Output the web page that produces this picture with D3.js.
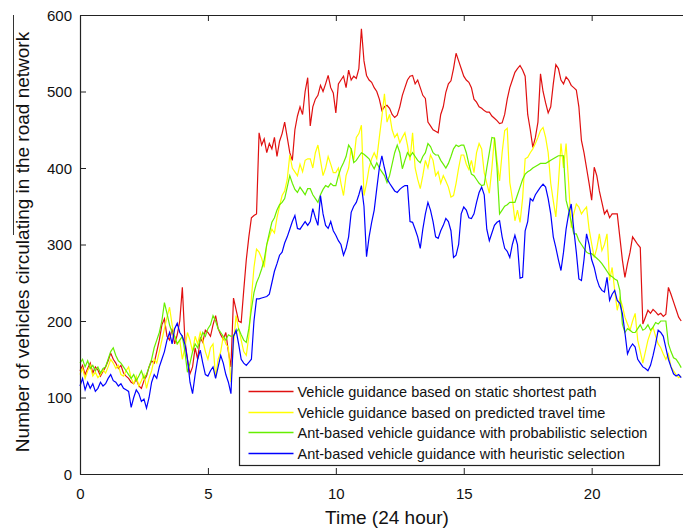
<!DOCTYPE html>
<html>
<head>
<meta charset="utf-8">
<script src="https://cdn.jsdelivr.net/npm/d3@7"></script>
<style>
  body { margin: 0; background: #fff; }
  svg text { font-family: "Liberation Sans", Arial, sans-serif; fill: #111; }
</style>
</head>
<body>
<div id="chart"></div>
<script>
// sampled every 0.1 hour, from 0 to 23.5
var step = 0.1;

var staticShortest = [
  135,142,130,138,145,132,140,136,128,134,
  140,148,158,150,145,138,142,132,128,125,
  120,118,124,115,112,122,128,140,148,145,
  160,175,195,203,180,175,190,170,182,200,
  244,175,150,131,140,165,150,178,172,188,
  185,180,195,207,190,182,176,185,160,140,
  230,215,200,198,240,280,310,335,338,340,
  446,430,438,420,432,425,440,415,435,445,
  460,440,420,410,450,468,480,470,500,518,
  455,480,490,495,508,500,510,521,505,498,
  472,510,515,520,505,528,515,520,517,530,
  582,540,521,515,512,505,500,490,475,480,
  482,478,470,466,469,480,495,505,515,520,
  521,510,515,505,495,491,460,455,450,448,
  446,470,480,499,510,514,530,550,540,530,
  520,515,512,505,490,486,480,478,475,473,
  473,468,465,462,458,459,470,490,505,515,
  525,530,534,528,520,470,450,427,440,460,
  523,500,485,472,480,510,535,530,515,510,
  519,515,508,505,502,480,436,420,400,380,
  358,401,390,370,355,340,345,335,340,340,
  340,310,280,257,275,290,310,305,300,296,
  196,205,214,210,215,212,208,210,206,209,
  244,235,225,215,205,200
];

var predictedTravel = [
  130,138,125,135,142,128,133,126,130,136,
  132,140,150,145,138,142,130,128,135,140,
  125,118,128,115,122,130,112,125,135,150,
  145,160,175,190,205,218,195,180,170,175,
  150,165,185,175,160,180,170,185,175,160,
  150,165,170,126,150,160,180,170,165,120,
  170,207,190,175,160,155,180,230,270,294,
  290,282,270,300,310,320,315,335,350,364,
  370,385,417,400,395,390,405,395,410,412,
  412,400,420,430,410,390,400,415,405,394,
  394,400,380,364,390,400,426,410,440,445,
  456,364,380,400,412,420,412,440,467,497,
  460,470,450,440,445,433,440,446,430,410,
  446,400,385,373,390,410,400,417,410,390,
  395,380,390,383,375,362,364,380,400,417,
  417,405,398,410,394,420,432,425,394,380,
  367,400,440,410,383,420,449,452,381,360,
  331,345,329,360,412,414,420,425,432,440,
  449,453,440,420,380,357,336,380,432,400,
  432,380,322,340,353,349,340,345,349,320,
  301,283,295,314,292,300,314,253,270,240,
  214,230,220,205,196,188,200,210,175,160,
  145,160,175,185,192,180,170,165,157,150,
  157,140,135,130,126,128
];

var antProbabilistic = [
  145,150,140,148,138,142,135,140,132,138,
  140,150,160,165,155,148,145,140,135,130,
  125,130,122,128,135,125,130,140,150,165,
  175,185,200,224,210,195,185,180,170,175,
  180,160,133,145,160,170,165,175,185,180,
  190,195,207,200,190,185,180,175,182,180,
  181,185,190,182,175,172,190,215,237,250,
  258,268,280,300,315,329,335,345,352,355,
  360,375,390,380,372,368,375,370,365,373,
  373,365,360,355,365,372,377,375,380,377,
  377,390,400,407,415,430,425,407,410,415,
  420,418,415,412,405,399,407,400,395,390,
  381,390,405,420,430,420,399,410,420,415,
  420,415,410,407,415,420,432,428,420,417,
  417,410,405,400,406,415,425,430,428,430,
  430,420,405,392,390,385,380,377,378,400,
  420,440,439,400,340,345,350,352,355,355,
  355,365,375,385,392,395,397,400,402,404,
  406,406,406,408,410,412,414,416,416,416,
  358,345,330,314,314,305,300,295,290,288,
  288,285,282,279,275,270,265,260,258,255,
  253,240,196,185,190,188,185,185,190,195,
  188,190,195,188,192,198,196,200,200,200,
  170,160,152,150,145,139
];

var antHeuristic = [
  115,125,110,120,112,118,108,112,120,115,
  118,125,130,122,120,115,118,112,110,108,
  87,100,110,105,95,98,86,100,120,130,
  125,140,150,160,175,185,170,190,197,185,
  180,170,150,120,105,130,150,162,145,130,
  128,135,140,125,140,155,145,130,120,105,
  180,188,170,150,145,142,146,150,200,229,
  229,230,231,232,235,250,265,275,286,290,
  302,310,320,330,338,321,320,325,330,325,
  330,347,335,325,364,340,325,321,330,318,
  312,305,300,286,295,310,342,350,355,365,
  377,350,284,310,329,345,373,400,416,400,
  386,380,375,370,368,372,375,377,377,330,
  329,320,310,295,320,340,355,345,330,310,
  308,318,325,334,330,318,283,286,300,340,
  349,345,335,334,340,355,368,375,365,320,
  305,315,325,329,331,310,295,291,283,300,
  312,300,256,257,318,330,360,357,365,370,
  375,379,375,360,340,310,296,280,266,290,
  320,340,353,320,290,255,253,280,314,300,
  280,270,255,245,240,238,257,227,235,240,
  227,223,210,185,157,165,170,166,150,145,
  140,138,135,142,155,170,188,185,180,165,
  150,140,131,128,130,126
];

var seriesNames = [
  "Vehicle guidance based on static shortest path",
  "Vehicle guidance based on predicted travel time",
  "Ant-based vehicle guidance with probabilistic selection",
  "Ant-based vehicle guidance with heuristic selection"
];
var seriesColors = ["#e01010", "#ffff00", "#66ee00", "#0000ff"];
var xTicks = [0, 5, 10, 15, 20];
var yTicks = [0, 100, 200, 300, 400, 500, 600];

var allSeries = [staticShortest, predictedTravel, antProbabilistic, antHeuristic];

var W = 683, H = 530;
var margin = {top: 15, left: 80, bottom: 56};
var plotH = H - margin.top - margin.bottom;

var svg = d3.select("#chart").append("svg")
  .attr("width", W).attr("height", H);

var x = d3.scaleLinear().domain([0, 24]).range([margin.left, margin.left + 614]);
var y = d3.scaleLinear().domain([0, 600]).range([margin.top + plotH, margin.top]);

// lines
var line = d3.line()
  .x(function(d, i) { return x(i * step); })
  .y(function(d) { return y(d); });

allSeries.forEach(function(s, k) {
  svg.append("path")
    .datum(s)
    .attr("fill", "none")
    .attr("stroke", seriesColors[k])
    .attr("stroke-width", 1.2)
    .attr("d", line);
});

// axes (matlab style, inward ticks)
var xAxis = svg.append("g")
  .attr("transform", "translate(0," + y(0) + ")")
  .call(d3.axisBottom(x).tickValues(xTicks).tickSizeInner(-6).tickSizeOuter(0).tickPadding(14));
var xTop = svg.append("g")
  .attr("transform", "translate(0," + y(600) + ")")
  .call(d3.axisTop(x).tickValues(xTicks).tickSizeInner(-6).tickSizeOuter(0).tickFormat(""));
var yAxis = svg.append("g")
  .attr("transform", "translate(" + x(0) + ",0)")
  .call(d3.axisLeft(y).tickValues(yTicks).tickSizeInner(-6).tickSizeOuter(0).tickPadding(8));

[xAxis, xTop, yAxis].forEach(function(g) {
  g.select(".domain").attr("stroke", "#222").attr("stroke-width", 1.2);
  g.selectAll(".tick line").attr("stroke", "#222");
  g.selectAll(".tick text").style("font-size", "15px").attr("fill", "#111");
});
yAxis.selectAll(".tick text").attr("dy", "0.35em");

// axis labels
svg.append("text")
  .attr("x", 387).attr("y", 524)
  .attr("text-anchor", "middle")
  .style("font-size", "19px")
  .text("Time (24 hour)");

svg.append("text")
  .attr("transform", "rotate(-90)")
  .attr("x", -242).attr("y", 29)
  .attr("text-anchor", "middle")
  .style("font-size", "19px")
  .text("Number of vehicles circulating in the road network");

svg.append("line")
  .attr("x1", 13.5).attr("x2", 13.5).attr("y1", 15).attr("y2", 235)
  .attr("stroke", "#333").attr("stroke-width", 1);

// legend
var lg = svg.append("g").attr("transform", "translate(239.5,377.5)");
lg.append("rect")
  .attr("width", 420).attr("height", 88)
  .attr("fill", "#fff").attr("stroke", "#222").attr("stroke-width", 1.2);

seriesNames.forEach(function(name, k) {
  var yy = Math.round(14 + k * 20.5);
  lg.append("line")
    .attr("x1", 9).attr("x2", 54).attr("y1", yy).attr("y2", yy)
    .attr("stroke", seriesColors[k]).attr("stroke-width", 1.5);
  lg.append("text")
    .attr("x", 58).attr("y", yy + 5)
    .style("font-size", "14.5px")
    .text(name);
});
</script>
</body>
</html>
